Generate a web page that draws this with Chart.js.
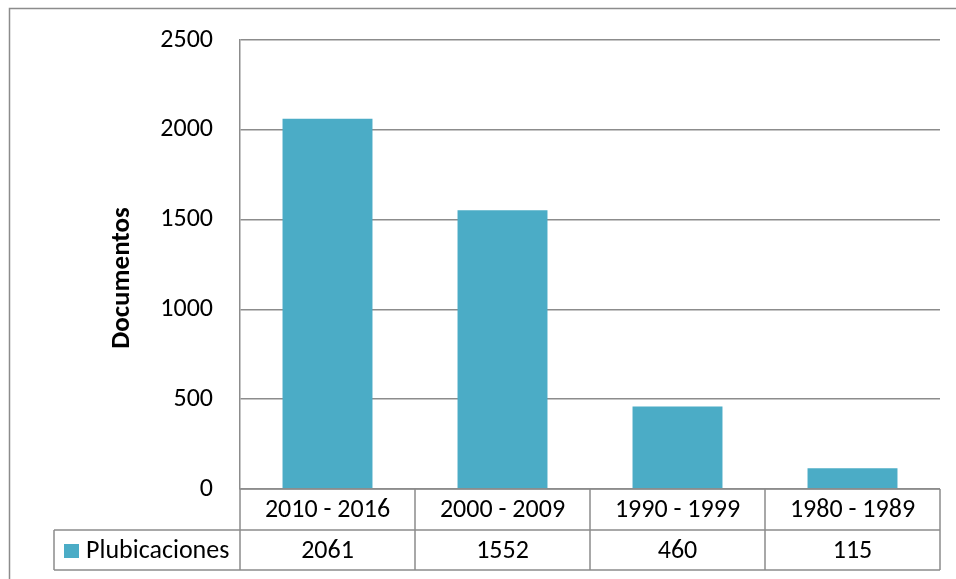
<!DOCTYPE html>
<html>
<head>
<meta charset="utf-8">
<script src="https://cdn.jsdelivr.net/npm/chart.js@4"></script>
<style>
  html, body { margin:0; padding:0; background:#fff; }
  #wrap { width:956px; height:579px; position:relative; }
</style>
</head>
<body>
<div id="wrap"><canvas id="docsChart" width="956" height="579"></canvas></div>
<script>
const periods = ["2010 - 2016", "2000 - 2009", "1990 - 1999", "1980 - 1989"];
const publicaciones = [2061, 1552, 460, 115];
const yTicks = [0, 500, 1000, 1500, 2000, 2500];
const seriesName = "Plubicaciones";
const axisTitle = "Documentos";

const FONT = "Carlito, Lato, 'Open Sans', sans-serif";
const LINE = "#8c8c8c";
const BAR = "#4bacc6";

/* outer frame, axis title and data table under the plot */
const tablePlugin = {
  id: "tablePlugin",
  afterDraw(chart) {
    const ctx = chart.ctx;
    const x = chart.scales.x;
    const area = chart.chartArea;
    const rowH = 41;
    const top = area.bottom;
    const mid = top + rowH;
    const bot = mid + 40;
    const legendLeft = 54;

    ctx.save();
    ctx.strokeStyle = LINE;
    ctx.lineWidth = 1.5;

    // outer chart border (runs off the right and bottom)
    ctx.beginPath();
    ctx.moveTo(9.5, chart.height + 5);
    ctx.lineTo(9.5, 8.5);
    ctx.lineTo(chart.width + 5, 8.5);
    ctx.stroke();

    // table grid
    ctx.beginPath();
    ctx.moveTo(area.left, top); ctx.lineTo(area.right, top);
    ctx.moveTo(legendLeft, mid); ctx.lineTo(area.right, mid);
    ctx.moveTo(legendLeft, bot); ctx.lineTo(area.right, bot);
    ctx.moveTo(legendLeft, mid); ctx.lineTo(legendLeft, bot);
    ctx.moveTo(area.left, top); ctx.lineTo(area.left, bot);
    const step = (area.right - area.left) / periods.length;
    for (let i = 1; i <= periods.length; i++) {
      const lx = area.left + step * i;
      ctx.moveTo(lx, top); ctx.lineTo(lx, bot);
    }
    ctx.stroke();

    ctx.fillStyle = "#000";
    ctx.font = "26px " + FONT;
    ctx.textAlign = "center";
    ctx.textBaseline = "middle";
    periods.forEach((p, i) => {
      const cx = x.getPixelForValue(i);
      ctx.fillText(p, cx, top + rowH / 2 + 1);
      ctx.fillText(String(publicaciones[i]), cx, mid + 20 + 1);
    });

    // legend key
    ctx.fillStyle = BAR;
    ctx.fillRect(64, mid + 14, 15, 14);
    ctx.fillStyle = "#000";
    ctx.textAlign = "left";
    ctx.fillText(seriesName, 86, mid + 20 + 1);

    // y axis title (Excel centres it a bit lower than the plot)
    ctx.translate(122, 278);
    ctx.rotate(-Math.PI / 2);
    ctx.textAlign = "center";
    ctx.font = "bold 27px " + FONT;
    ctx.fillText(axisTitle, 0, 0);
    ctx.restore();
  }
};

new Chart(document.getElementById("docsChart"), {
  type: "bar",
  data: {
    labels: periods,
    datasets: [{
      label: seriesName,
      data: publicaciones,
      backgroundColor: BAR,
      categoryPercentage: 1,
      barPercentage: 0.514
    }]
  },
  options: {
    responsive: false,
    animation: false,
    layout: { padding: { left: 108, top: 38, right: 16, bottom: 90 } },
    plugins: { legend: { display: false }, tooltip: { enabled: false } },
    scales: {
      x: { display: false },
      y: {
        min: 0,
        max: 2500,
        afterBuildTicks: s => { s.ticks = yTicks.map(v => ({ value: v })); },
        afterFit: s => { s.width = 132; },
        grid: { color: LINE, lineWidth: 1.5, drawTicks: false },
        border: { color: LINE, width: 1.5 },
        ticks: {
          color: "#000",
          padding: 27,
          font: { family: FONT, size: 26, lineHeight: 1 },
          callback: v => String(v)
        },
        title: { display: false }
      }
    }
  },
  plugins: [tablePlugin]
});
</script>
</body>
</html>
